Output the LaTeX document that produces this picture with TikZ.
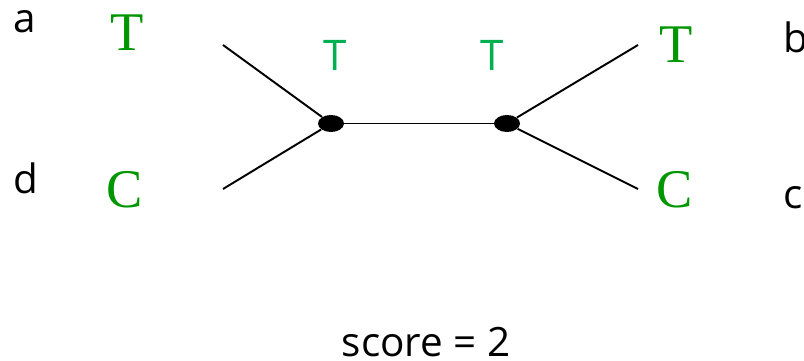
\documentclass[tikz,border=0pt]{standalone}
\usepackage{fontspec}
\setmainfont{Liberation Serif}
\setsansfont{Open Sans}
\usepackage{tikz}
\usetikzlibrary{positioning,calc,shapes}
\tikzset{>=latex}
\definecolor{leafgreen}{RGB}{0,150,0}
\definecolor{innergreen}{RGB}{0,176,80}
\tikzset{
  taxon/.style={font=\sffamily\fontsize{23}{28}\selectfont,inner sep=0pt},
  leaf/.style={font=\rmfamily\fontsize{31}{36}\selectfont,text=leafgreen,inner sep=0pt},
  guess/.style={font=\sffamily\fontsize{24}{28}\selectfont,text=innergreen,inner sep=0pt},
  joint/.style={ellipse,fill=black,minimum width=0.52cm,minimum height=0.34cm,inner sep=0pt}
}

\begin{document}
\begin{tikzpicture}
    \useasboundingbox (0,0) rectangle (16.08,7.22);

    % inner vertices
    \node [joint] (u) at (6.62,4.75) {};
    \node [joint] (v) at (10.14,4.75) {};

    % free ends of the pendant edges
    \coordinate (ea) at (4.46,6.32);
    \coordinate (ed) at (4.46,3.44);
    \coordinate (eb) at (12.76,6.32);
    \coordinate (ec) at (12.76,3.44);

    % states at the leaves
    \node [leaf] (sa) at (2.54,6.56) {T};
    \node [leaf] (sd) at (2.50,3.42) {C};
    \node [leaf] (sb) at (13.52,6.32) {T};
    \node [leaf] (sc) at (13.50,3.42) {C};

    % states assigned to the inner vertices
    \node [guess] (su) at (6.70,6.12) {T};
    \node [guess] (sv) at (9.84,6.12) {T};

    % taxon names
    \node [taxon] (a) at (0.49,6.78) {a};
    \node [taxon] (d) at (0.51,3.66) {d};
    \node [taxon,anchor=west] (b) at (15.66,6.47) {b};
    \node [taxon,anchor=west] (c) at (15.66,3.26) {c};

    \node [taxon,anchor=base] (score) at (8.52,0.08) {score = 2};

    \begin{scope}[line width=1.1pt]
    \draw (ea) to (u);
    \draw (ed) to (u);
    \draw (u) to (v);
    \draw (v) to (eb);
    \draw (v) to (ec);
    \end{scope}

\end{tikzpicture}
\end{document}
